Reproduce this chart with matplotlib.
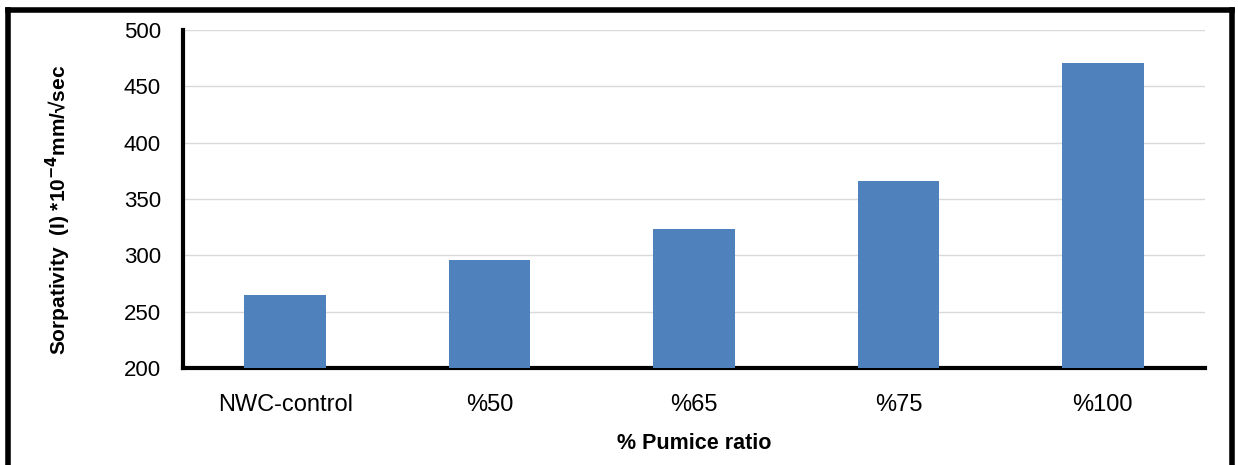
import numpy as np
import matplotlib.pyplot as plt
from matplotlib.lines import Line2D

plt.rcParams['font.family'] = ['Liberation Sans', 'DejaVu Sans']

categories = ["NWC-control", "%50", "%65", "%75", "%100"]
sorptivity = [265, 296, 323, 366, 471]

fig = plt.figure(figsize=(12.38, 4.65), dpi=100)
ax = fig.add_axes([183/1238, 1 - 368/465, (1205 - 183)/1238, (368 - 30)/465])

x = np.arange(len(categories))
ax.bar(x, sorptivity, width=0.4, color="#4f81bd", zorder=3)
ax.set_xlim(-0.5, len(categories) - 0.5)
ax.set_ylim(200, 500)
ax.set_yticks(np.arange(200, 501, 50))
ax.set_xticks(x)
ax.set_xticklabels(categories)
ax.yaxis.grid(True, color="#d9d9d9", linewidth=1, zorder=0)
ax.tick_params(axis="both", length=0)
ax.tick_params(axis="y", pad=16, labelsize=16)
ax.tick_params(axis="x", pad=19, labelsize=17)
for s in ["top", "right"]:
    ax.spines[s].set_visible(False)
for s in ["left", "bottom"]:
    ax.spines[s].set_linewidth(3)
    ax.spines[s].set_color("k")

ax.set_xlabel("% Pumice ratio", fontsize=15.5, fontweight="bold", labelpad=12)
fig.text(58/1238, 1 - 210/465, r"Sorpativity  (I) *10$^{\mathbf{-4}}$mm/√sec",
         rotation=90, fontsize=15, fontweight="bold", ha="center", va="center")

# outer frame
frame_kw = dict(color="k", linewidth=4, transform=fig.transFigure)
fig.add_artist(Line2D([7.5/1238, 7.5/1238], [0, 1 - 10/465], **frame_kw))
fig.add_artist(Line2D([7.5/1238, 1232/1238], [1 - 10/465, 1 - 10/465], **frame_kw))
fig.add_artist(Line2D([1232/1238, 1232/1238], [0, 1 - 10/465], **frame_kw))

plt.savefig("out.png", dpi=100)
